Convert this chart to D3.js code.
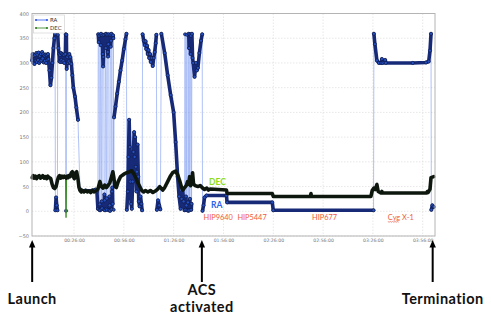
<!DOCTYPE html>
<html>
<head>
<meta charset="utf-8">
<script src="https://cdn.jsdelivr.net/npm/d3@7"></script>
<style>
  body { margin: 0; background: #fff; }
  svg { display: block; }
</style>
</head>
<body>
<div id="chart"></div>
<script>
// time in minutes since 00:00:00, angle in degrees
const raPoints = [
  [0.8,305],[1.1,318],[1.5,300],[1.9,314],[2.2,298],[2.6,316],[2.9,304],[3.3,320],[3.6,302],[4.0,317],
  [4.3,306],[4.7,321],[5.0,300],[5.4,314],[5.7,303],[6.1,318],[6.4,305],[6.8,322],[7.1,309],[7.5,318],
  [7.8,301],[8.2,315],[8.5,304],[8.9,317],[9.2,300],[9.6,316],[9.9,306],[10.3,318],[10.6,308],[11.2,285],
  [11.8,255],[12.4,270],[13.0,300],[13.6,330],[14.2,350],[14.6,359],[14.8,2],[15.2,28],[15.6,12],[16.0,2],
  [16.2,357],[16.6,330],[17.0,318],[17.2,303],[17.6,316],[17.8,302],[18.2,320],[18.4,306],[18.8,318],[19.0,302],
  [19.4,317],[19.6,304],[20.0,316],[20.2,300],[20.8,318],[21.0,358],[21.2,1],[21.4,357],[21.6,288],[22.0,312],
  [22.3,300],[22.6,316],[22.9,303],[23.2,318],[23.5,300],[23.8,312],[24.4,298],[25.0,275],[25.6,250],[26.6,232],
  [27.4,210],[28.4,185],
  [29.6,45],[31,41],[33,42],[35,41],[37,42],[39,44],[39.8,40],[40.4,5],
  [40.6,358],[40.9,342],[41.1,355],[41.3,3],[41.5,14],[41.7,2],[41.9,357],[42.1,336],[42.3,359],[42.5,4],
  [42.7,20],[42.9,6],[43.1,356],[43.3,318],[43.5,293],[43.7,312],[43.9,357],[44.1,3],[44.3,34],[44.5,22],
  [44.7,2],[44.9,358],[45.1,330],[45.3,359],[45.5,5],[45.7,26],[45.9,3],[46.1,357],[46.3,322],[46.5,313],
  [46.7,338],[46.9,358],[47.1,2],[47.3,30],[47.5,12],[47.7,1],[47.9,357],[48.1,333],[48.3,345],[48.5,359],
  [48.7,4],[48.9,40],[49.1,48],[49.3,15],[49.5,356],[49.7,350],[49.9,3],
  [50.1,190],[51.0,212],[52.0,238],[53.0,262],[54.0,285],[55.0,305],[56.0,328],[57.0,348],[57.6,359],
  [57.8,3],[58.4,40],[58.8,110],[59.2,185],[59.6,130],[60.0,60],[60.4,15],[60.8,5],[61.3,60],[61.8,120],
  [62.2,160],[62.5,110],[62.8,150],[63.2,90],[63.6,40],[63.9,80],[64.3,135],[64.7,70],[65.0,20],[65.5,10],
  [66.0,30],[66.6,15],[67.0,2],[67.3,358],[68.0,345],[68.6,336],[69.1,344],[69.5,328],[70.0,335],[70.4,318],
  [70.9,326],[71.3,310],[71.8,318],[72.2,302],[72.8,310],[73.4,294],[74.0,310],[74.6,322],[75.2,340],[75.6,357],
  [75.9,3],[76.6,22],[77.3,12],[78.0,4],
  [78.6,359],[80.6,320],[82.4,275],[84.2,235],[86.0,200],[87.2,140],[88.4,70],[89.3,30],[90.2,5],[90.8,25],
  [91.4,45],[92.0,20],[92.6,2],[92.9,358],[93.1,3],[93.4,30],[93.7,12],[94.0,357],[94.2,2],[94.6,18],
  [94.9,1],[95.1,359],[95.3,330],[95.5,2],[95.8,25],[96.0,358],[96.2,318],[96.4,355],[96.6,3],[96.8,15],
  [97.0,359],[97.4,310],[97.8,300],[98.6,272],[99.4,300],[100.0,285],[100.6,290],[101.5,320],[102.5,345],[103.2,358],
  [103.4,1],[104.0,12],[104.6,28],[105.8,32],[117.8,32],[118.2,18],[145.4,18],[146.0,2],[206.4,2],
  [206.6,359],[207.2,338],[208.4,305],[209.6,300],[211.0,300],[211.4,308],[211.8,300],[213.0,301],[213.4,306],
  [213.8,300],[230.0,300],[238.0,301],[239.6,303],[240.4,325],[241.0,359],[241.2,3],[241.8,12],[242.6,9]
];

const decPoints = [
  [0.8,68],[1.4,72],[2.0,67],[2.8,71],[3.5,66],[4.2,70],[5.0,72],[5.8,67],[6.5,69],[7.2,72],
  [8.0,67],[8.8,70],[9.5,66],[10.2,71],[11.0,68],[12.0,66],[12.8,55],[13.6,48],[14.4,46],[15.2,50],
  [16.0,62],[16.6,69],[17.3,72],[18.0,67],[18.8,71],[19.5,68],[20.2,71],[21.0,68],[21.2,-13],[21.4,67],
  [22.0,71],[22.5,68],[23.0,72],[23.6,70],[24.4,78],[25.0,80],[25.6,70],[26.2,66],[27.0,78],[27.6,80],
  [28.4,65],[29.0,48],[29.6,42],[30.3,39],[31.0,42],[32.0,39],[33.0,42],[34.0,39],[35.0,41],[36.0,38],
  [37.0,42],[38.0,39],[39.0,41],[40.4,45],[41.6,60],[42.5,50],[43.5,47],[44.5,53],[45.5,48],[46.5,52],
  [47.6,58],[48.6,70],[49.4,80],[50.0,68],[50.6,50],[51.5,48],[52.6,60],[54.0,70],[56.0,75],[57.8,78],
  [59.5,80],[60.8,82],[62.0,76],[63.2,68],[64.4,58],[65.6,50],[66.8,42],[68.0,39],[69.0,42],[70.5,39],
  [72.0,42],[73.5,38],[75.0,41],[76.4,45],[77.6,50],[79.4,43],[80.6,48],[82.4,60],[84.2,72],[85.4,78],
  [87.2,81],[88.4,74],[89.6,62],[90.8,48],[91.6,43],[92.6,48],[93.6,52],[94.4,60],[95.0,55],[95.6,70],
  [96.2,52],[96.8,56],[97.4,78],[98.0,55],[99.0,52],[100.6,50],[102.0,52],[103.4,47],[104.6,44],[106.0,47],
  [107.0,43],[108.0,45],[117.8,43],[118.2,36],[145.4,36],[146.0,30],[168.4,30],[168.7,36],[169.0,30],
  [204.8,30],[205.6,42],[206.6,47],[207.4,44],[208.4,54],[209.2,40],[210.8,37],[211.4,40],[211.8,37],
  [238.4,37],[238.8,40],[239.2,38],[240.4,45],[241.0,68],[242.6,70]
];

const yTicks = [-50, 0, 50, 100, 150, 200, 250, 300, 350, 400];
const xTicks = [26, 56, 86, 116, 146, 176, 206, 236];
const xTickLabels = ["00:26:00", "00:56:00", "01:26:00", "01:56:00", "02:26:00", "02:56:00", "03:26:00", "03:56:00"];

const targetNames = ["HIP9640", "HIP5447", "HIP677", "Cyg X-1"];
const targetStarts = [104, 124.4, 169.4, 215];

const eventNames = [["Launch"], ["ACS", "activated"], ["Termination"]];
const eventTimes = [0.8, 103, 242];

function drawChart() {
  const width = 491, height = 319;
  const plot = {left: 32, right: 435, top: 13.5, bottom: 236};

  const svg = d3.select("#chart")
    .append("svg")
    .attr("width", width)
    .attr("height", height);

  svg.append("rect").attr("width", width).attr("height", height).attr("fill", "#fff");

  const x = d3.scaleLinear().domain([0.7, 243.4]).range([plot.left, plot.right]);
  const y = d3.scaleLinear().domain([-50, 400]).range([plot.bottom, plot.top]);

  // grid
  const grid = svg.append("g")
    .attr("stroke", "#d6d6d6")
    .attr("stroke-width", 0.6)
    .attr("stroke-dasharray", "1.5,1.5");
  grid.selectAll(".gx").data(xTicks).join("line")
    .attr("x1", d => x(d)).attr("x2", d => x(d))
    .attr("y1", plot.top).attr("y2", plot.bottom);
  grid.selectAll(".gy").data(yTicks).join("line")
    .attr("x1", plot.left).attr("x2", plot.right)
    .attr("y1", d => y(d)).attr("y2", d => y(d));

  // axes labels
  const yAxis = d3.axisLeft(y).tickValues(yTicks).tickSize(0).tickPadding(3);
  const xAxis = d3.axisBottom(x).tickValues(xTicks).tickSize(0).tickPadding(3)
    .tickFormat((d, i) => xTickLabels[i]);

  svg.append("g")
    .attr("transform", `translate(${plot.left},0)`)
    .call(yAxis)
    .call(g => g.select(".domain").remove())
    .selectAll("text")
    .attr("font-family", "DejaVu Sans")
    .attr("font-size", 5)
    .attr("fill", "#777");

  svg.append("g")
    .attr("transform", `translate(0,${plot.bottom})`)
    .call(xAxis)
    .call(g => g.select(".domain").remove())
    .selectAll("text")
    .attr("font-family", "DejaVu Sans")
    .attr("font-size", 4.6)
    .attr("fill", "#777");

  const line = d3.line().x(d => x(d[0])).y(d => y(d[1]));

  // break the heavy line where the angle jumps (wraps / sparse samples)
  function segments(points, maxJump) {
    const segs = [];
    let cur = [points[0]];
    for (let i = 1; i < points.length; i++) {
      if (Math.abs(points[i][1] - points[i - 1][1]) > maxJump) {
        segs.push(cur);
        cur = [];
      }
      cur.push(points[i]);
    }
    segs.push(cur);
    return segs.filter(s => s.length > 1);
  }

  const chart = svg.append("g");

  // RA
  chart.append("path")
    .attr("d", line(raPoints))
    .attr("fill", "none")
    .attr("stroke", "#6f8ff0")
    .attr("stroke-opacity", 0.55)
    .attr("stroke-width", 1);

  chart.append("g")
    .selectAll("path")
    .data(segments(raPoints, 100))
    .join("path")
    .attr("d", line)
    .attr("fill", "none")
    .attr("stroke", "#172a78")
    .attr("stroke-width", 3.6)
    .attr("stroke-linejoin", "round")
    .attr("stroke-linecap", "round");

  chart.append("g")
    .selectAll("circle")
    .data(raPoints)
    .join("circle")
    .attr("cx", d => x(d[0]))
    .attr("cy", d => y(d[1]))
    .attr("r", 1.6)
    .attr("fill", "#2550c4")
    .attr("stroke", "#0b1235")
    .attr("stroke-width", 0.6);

  // DEC
  chart.append("path")
    .attr("d", line(decPoints))
    .attr("fill", "none")
    .attr("stroke", "#3c8c28")
    .attr("stroke-width", 1.4);

  chart.append("g")
    .selectAll("path")
    .data(segments(decPoints, 50))
    .join("path")
    .attr("d", line)
    .attr("fill", "none")
    .attr("stroke", "#0d170d")
    .attr("stroke-width", 3.6)
    .attr("stroke-linejoin", "round")
    .attr("stroke-linecap", "round");

  // frame
  svg.append("rect")
    .attr("x", plot.left).attr("y", plot.top)
    .attr("width", plot.right - plot.left).attr("height", plot.bottom - plot.top)
    .attr("fill", "none")
    .attr("stroke", "#b4b4b4")
    .attr("stroke-width", 1);

  // legend
  const legend = svg.append("g").attr("transform", "translate(33.5,15)");
  legend.append("rect")
    .attr("width", 31).attr("height", 18)
    .attr("fill", "#fff").attr("stroke", "#cccccc").attr("stroke-width", 0.6);
  const legendItems = [{name: "RA", color: "#2d55ee"}, {name: "DEC", color: "#2e7d1e"}];
  const item = legend.selectAll(".item").data(legendItems).join("g")
    .attr("transform", (d, i) => `translate(0,${5 + i * 8})`);
  item.append("line")
    .attr("x1", 2.5).attr("x2", 13.5)
    .attr("stroke", d => d.color).attr("stroke-width", 0.8);
  item.selectAll("circle").data(d => [2.5, 13.5].map(cx => ({cx, color: d.color}))).join("circle")
    .attr("cx", d => d.cx).attr("r", 1.1).attr("fill", d => d.color);
  item.append("text")
    .attr("x", 16.5).attr("dy", "0.35em")
    .attr("font-family", "DejaVu Sans").attr("font-size", 5.5).attr("fill", "#333")
    .text(d => d.name);

  // series labels
  svg.append("text")
    .attr("x", x(107.3)).attr("y", 184.5)
    .attr("font-family", "Lato").attr("font-weight", "bold").attr("font-size", 8.5)
    .attr("fill", "#8bdc1e").text("DEC");
  svg.append("text")
    .attr("x", x(108.5)).attr("y", 207.5)
    .attr("font-family", "Lato").attr("font-weight", "bold").attr("font-size", 8.5)
    .attr("fill", "#2a62ea").text("RA");

  // targets
  const tgt = svg.append("g")
    .selectAll("text")
    .data(targetNames)
    .join("text")
    .attr("x", (d, i) => x(targetStarts[i]))
    .attr("y", 219.5)
    .attr("font-family", "Lato").attr("font-size", 7.4)
    .attr("fill", "#f05a3c")
    .text(d => d);

  // spell-check underline under "Cyg"
  const cyg = tgt.filter(d => d.startsWith("Cyg")).node();
  const ext = cyg.getSubStringLength(0, 3);
  const cx0 = +cyg.getAttribute("x");
  svg.append("path")
    .attr("d", d3.range(0, Math.floor(ext / 1.2)).map((k, i) =>
      `${i ? "L" : "M"}${cx0 + k * 1.2},${221.5 + (k % 2 ? 0.7 : 0)}`).join(""))
    .attr("fill", "none").attr("stroke", "#e04a3a").attr("stroke-width", 0.6);

  // events
  const ev = svg.append("g")
    .selectAll("g")
    .data(eventNames)
    .join("g")
    .attr("transform", (d, i) => `translate(${x(eventTimes[i])},0)`);

  ev.append("line")
    .attr("y1", 245).attr("y2", 282)
    .attr("stroke", "#000").attr("stroke-width", 2);
  ev.append("path")
    .attr("d", "M0,240L-3.2,247.5L3.2,247.5Z")
    .attr("fill", "#000");

  // one text per line so the two-line label keeps clear spacing
  ev.selectAll("text")
    .data((d, i) => d.map((s, k) => ({s, k, n: d.length, dx: i === 2 ? 10 : 0})))
    .join("text")
    .attr("x", d => d.dx)
    .attr("y", d => d.n > 1 ? 294.5 + d.k * 17.5 : 304)
    .attr("text-anchor", "middle")
    .attr("font-family", "Lato").attr("font-weight", "bold").attr("font-size", 14.5)
    .attr("letter-spacing", 0.45)
    .attr("fill", "#111")
    .text(d => d.s);
}

drawChart();
</script>
</body>
</html>
